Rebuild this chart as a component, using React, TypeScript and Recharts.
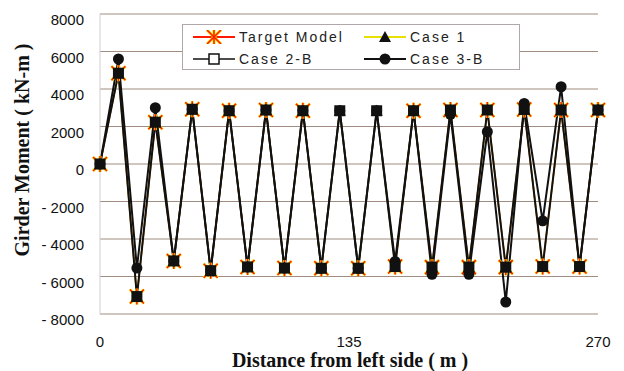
import { LineChart, Line, XAxis, YAxis, CartesianGrid } from 'recharts';

// distance along the girder (m)
const distance = [0, 10, 20, 30, 40, 50, 60, 70, 80, 90, 100, 110, 120, 130, 140, 150, 160, 170, 180, 190, 200, 210, 220, 230, 240, 250, 260, 270];

// girder moment (kN-m)
const targetModel = [0, 4840, -7070, 2230, -5170, 2920, -5690, 2840, -5490, 2880, -5550, 2840, -5560, null, -5560, null, -5470, 2840, -5500, 2880, -5500, 2880, -5500, 2910, -5470, 2880, -5470, 2880];
const case1 = [0, 4840, -7070, 2230, -5170, 2920, -5690, 2840, -5490, 2880, -5550, 2840, -5560, 2840, -5560, 2840, -5470, 2840, -5500, 2880, -5500, 2880, -5500, 2910, -5470, 2880, -5470, 2880];
const case2B = [0, 4840, -7070, 2230, -5170, 2920, -5690, 2840, -5490, 2880, -5550, 2840, -5560, 2840, -5560, 2840, -5470, 2840, -5500, 2880, -5500, 2880, -5500, 2910, -5470, 2880, -5470, 2880];
const case3B = [0, 5600, -5550, 3000, -5170, 2920, -5690, 2840, -5490, 2880, -5550, 2840, -5560, 2840, -5560, 2840, -5200, 2840, -5880, 2650, -5880, 1720, -7360, 3230, -3030, 4120, -5470, 2880];

const yTicks = [-8000, -6000, -4000, -2000, 0, 2000, 4000, 6000, 8000];
const xTicks = [0, 135, 270];

const data = distance.map((d, i) => ({
  d,
  target: targetModel[i],
  c1: case1[i],
  c2: case2B[i],
  c3: case3B[i],
}));

const sans = '"Liberation Sans", Arial, sans-serif';
const serif = '"Liberation Serif", "Times New Roman", serif';

function starShape(cx: number, cy: number, key?: string) {
  const r = 7;
  const arms = (
    <>
      <line x1={cx - r} y1={cy - r} x2={cx + r} y2={cy + r} />
      <line x1={cx - r} y1={cy + r} x2={cx + r} y2={cy - r} />
      <line x1={cx} y1={cy - r - 1} x2={cx} y2={cy + r + 1} />
    </>
  );
  return (
    <g key={key}>
      <g stroke="#f2e200" strokeWidth={3}>{arms}</g>
      <g stroke="#ff1a00" strokeWidth={1.5}>{arms}</g>
    </g>
  );
}

const StarDot = (p: any) => (p.cy == null || p.value == null ? <g key={`t${p.index}`} /> : starShape(p.cx, p.cy, `t${p.index}`));
const TriDot = (p: any) => (p.cy == null ? <g key={`a${p.index}`} /> : (
  <polygon key={`a${p.index}`} points={`${p.cx},${p.cy - 6} ${p.cx + 6},${p.cy + 5} ${p.cx - 6},${p.cy + 5}`} fill="#111" />
));
const SquareDot = (p: any) => (p.cy == null ? <g key={`s${p.index}`} /> : (
  <rect key={`s${p.index}`} x={p.cx - 5.5} y={p.cy - 5.5} width={11} height={11} fill="#111" />
));
const CircleDot = (p: any) => (p.cy == null ? <g key={`c${p.index}`} /> : (
  <circle key={`c${p.index}`} cx={p.cx} cy={p.cy} r={5.5} fill="#111" />
));

const YTick = ({ x, y, payload }: any) => {
  const v = payload.value as number;
  const txt = v < 0 ? `- ${Math.abs(v)}` : `${v}`;
  return (
    <text x={x} y={y + 6} dy="0.35em" textAnchor="end" fontFamily={sans} fontSize={15} fill="#111">{txt}</text>
  );
};

const XTick = ({ x, y, payload }: any) => (
  <text x={x} y={y} dy="0.71em" textAnchor="middle" fontFamily={sans} fontSize={15} fill="#111">{payload.value}</text>
);

function LegendIcon({ kind }: { kind: string }) {
  return (
    <svg width={42} height={14} style={{ display: 'block' }}>
      {kind === 'target' && (<><line x1={0} y1={7} x2={42} y2={7} stroke="#ff1a00" strokeWidth={2} />{starShape(21, 7)}</>)}
      {kind === 'c1' && (<><line x1={0} y1={7} x2={42} y2={7} stroke="#e8e000" strokeWidth={2} /><polygon points="21,1 27,12 15,12" fill="#111" /></>)}
      {kind === 'c2' && (<><line x1={0} y1={7} x2={42} y2={7} stroke="#111" strokeWidth={1.5} /><rect x={16} y={2} width={10} height={10} fill="#fff" stroke="#111" strokeWidth={1.5} /></>)}
      {kind === 'c3' && (<><line x1={0} y1={7} x2={42} y2={7} stroke="#111" strokeWidth={2} /><circle cx={21} cy={7} r={5.5} fill="#111" /></>)}
    </svg>
  );
}

const legendItems = [
  { kind: 'target', label: 'Target Model', left: 10, top: 4 },
  { kind: 'c1', label: 'Case 1', left: 181, top: 4 },
  { kind: 'c2', label: 'Case 2-B', left: 10, top: 26 },
  { kind: 'c3', label: 'Case 3-B', left: 181, top: 26 },
];

export default function App() {
  return (
    <div style={{ position: 'absolute', left: 0, top: 0, width: 624, height: 371, background: '#fff' }}>
      <LineChart width={624} height={371} data={data} margin={{ top: 14, right: 26, bottom: 17, left: 0 }}>
        <CartesianGrid vertical={false} stroke="#a08c80" strokeWidth={1} />
        <XAxis
          dataKey="d"
          type="number"
          domain={[0, 270]}
          ticks={xTicks}
          axisLine={false}
          tickLine={false}
          tickSize={0}
          tickMargin={22}
          height={40}
          tick={<XTick />}
          label={{
            content: () => (
              <text x={350} y={367} textAnchor="middle" fontFamily={serif} fontWeight="bold" fontSize={20} fill="#111">
                Distance from left side ( m )
              </text>
            ),
          }}
        />
        <YAxis
          type="number"
          domain={[-8000, 8000]}
          ticks={yTicks}
          width={100}
          axisLine={{ stroke: '#d4cccc' }}
          tickLine={false}
          tickSize={0}
          tickMargin={16}
          tick={<YTick />}
          label={{
            content: () => (
              <text x={22} y={150} transform="rotate(-90 22 150)" textAnchor="middle" dominantBaseline="central" fontFamily={serif} fontWeight="bold" fontSize={20} fill="#111">
                Girder Moment ( kN-m )
              </text>
            ),
          }}
        />
        <Line dataKey="target" stroke="#ff1a00" strokeWidth={1.5} dot={StarDot} isAnimationActive={false} />
        <Line dataKey="c1" stroke="#e8e000" strokeWidth={1.5} dot={TriDot} isAnimationActive={false} />
        <Line dataKey="c2" stroke="#111" strokeWidth={2} dot={SquareDot} isAnimationActive={false} />
        <Line dataKey="c3" stroke="#111" strokeWidth={2} dot={CircleDot} isAnimationActive={false} />
      </LineChart>
      <div
        style={{
          position: 'absolute', left: 182, top: 24, width: 338, height: 46, boxSizing: 'border-box',
          background: '#fff', border: '1px solid #b0a8a8',
        }}
      >
        {legendItems.map((it) => (
          <div key={it.kind} style={{ position: 'absolute', left: it.left, top: it.top, display: 'flex', alignItems: 'center', height: 16 }}>
            <LegendIcon kind={it.kind} />
            <span style={{ marginLeft: 4, fontFamily: sans, fontSize: 14, letterSpacing: 2, color: '#222', whiteSpace: 'nowrap' }}>{it.label}</span>
          </div>
        ))}
      </div>
    </div>
  );
}
